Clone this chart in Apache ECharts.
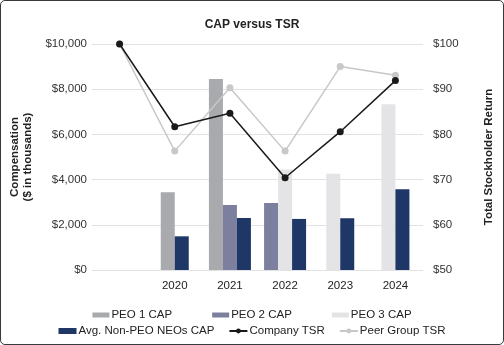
<!DOCTYPE html>
<html>
<head>
<meta charset="utf-8">
<script src="https://cdn.jsdelivr.net/npm/echarts@6/dist/echarts.min.js"></script>
<style>
html,body{margin:0;padding:0;background:#fff;}
#wrap{position:relative;width:504px;height:345px;}
#chart{position:absolute;left:0;top:0;width:504px;height:345px;}
#frame{position:absolute;left:0;top:0;width:504px;height:345px;box-sizing:border-box;border:1.5px solid #3a3a3a;border-radius:5px;pointer-events:none;}
</style>
</head>
<body>
<div id="wrap"><div id="chart"></div><div id="frame"></div></div>
<script>
var categories = ['', '2020', '2021', '2022', '2023', '2024'];
var peo1Cap   = [null, 3440, 8450, null, null, null];
var peo2Cap   = [null, null, 2880, 2960, null, null];
var peo3Cap   = [null, null, null, 4450, 4260, 7330];
var nonPeoCap = [null, 1490, 2300, 2260, 2290, 3570];
var companyTsr = [100, 81.7, 84.7, 70.4, 80.6, 91.9];
var peerTsr    = [100, 76.3, 90.3, 76.3, 95.0, 93.1];
var leftTicks = [0, 2000, 4000, 6000, 8000, 10000];
var rightTicks = [50, 60, 70, 80, 90, 100];

var barDefs = [
  {name: 'PEO 1 CAP', values: peo1Cap, color: '#a9aaad'},
  {name: 'PEO 2 CAP', values: peo2Cap, color: '#7c7f9e'},
  {name: 'PEO 3 CAP', values: peo3Cap, color: '#e4e4e6'},
  {name: 'Avg. Non-PEO NEOs CAP', values: nonPeoCap, color: '#1e3766'}
];

var FONT = 'Liberation Sans, Arial, Helvetica, sans-serif';
var BAR_W = 14;

function makeRender(idx) {
  return function (params, api) {
    var ci = api.value(0);
    var val = api.value(1);
    var present = [];
    for (var i = 0; i < barDefs.length; i++) {
      if (barDefs[i].values[ci] != null) present.push(i);
    }
    var k = present.indexOf(idx);
    var n = present.length;
    var base = api.coord([ci, 0]);
    var top = api.coord([ci, val]);
    var x = base[0] + (k - n / 2) * BAR_W;
    return {
      type: 'rect',
      shape: {x: x, y: top[1], width: BAR_W, height: base[1] - top[1]},
      style: api.style()
    };
  };
}

var series = barDefs.map(function (b, idx) {
  var data = [];
  b.values.forEach(function (v, i) { if (v != null) data.push([i, v]); });
  return {
    name: b.name,
    type: 'custom',
    yAxisIndex: 0,
    renderItem: makeRender(idx),
    encode: {x: 0, y: 1},
    itemStyle: {color: b.color},
    data: data,
    z: 2
  };
});

series.push({
  name: 'Peer Group TSR', type: 'line', yAxisIndex: 1, data: peerTsr,
  symbol: 'circle', symbolSize: 7,
  lineStyle: {color: '#c8c8c8', width: 1.5},
  itemStyle: {color: '#c8c8c8'}, z: 3
});
series.push({
  name: 'Company TSR', type: 'line', yAxisIndex: 1, data: companyTsr,
  symbol: 'circle', symbolSize: 7,
  lineStyle: {color: '#1a1a1a', width: 1.5},
  itemStyle: {color: '#1a1a1a'}, z: 4
});

var chart = echarts.init(document.getElementById('chart'), null, {renderer: 'canvas'});
chart.setOption({
  animation: false,
  backgroundColor: '#fff',
  title: {
    text: 'CAP versus TSR', left: 'center', top: 14,
    textStyle: {fontFamily: FONT, fontSize: 12, fontWeight: 'bold', color: '#222'}
  },
  legend: [
    {
      data: [{name: 'PEO 1 CAP', icon: 'rect'}, {name: 'PEO 2 CAP', icon: 'rect'}, {name: 'PEO 3 CAP', icon: 'rect'}],
      left: 'center', top: 304, itemWidth: 17, itemHeight: 5, itemGap: 40,
      textStyle: {fontFamily: FONT, fontSize: 11.5, color: '#222', padding: [0, 0, 0, -3]}
    },
    {
      data: [{name: 'Avg. Non-PEO NEOs CAP', icon: 'rect'}, 'Company TSR', 'Peer Group TSR'],
      left: 'center', top: 320, itemWidth: 18, itemHeight: 6, itemGap: 14,
      textStyle: {fontFamily: FONT, fontSize: 11.5, color: '#222', padding: [0, 0, 0, -3]}
    }
  ],
  grid: {left: 90, right: 81, top: 44, bottom: 75},
  xAxis: {
    type: 'category', data: categories, boundaryGap: true,
    axisLine: {show: false}, axisTick: {show: false},
    axisLabel: {fontFamily: FONT, fontSize: 11.5, color: '#222', margin: 10}
  },
  yAxis: [
    {
      type: 'value', min: leftTicks[0], max: leftTicks[leftTicks.length - 1], interval: 2000,
      name: 'Compensation\n($ in thousands)', nameLocation: 'middle', nameRotate: 90, nameGap: 58,
      nameTextStyle: {fontFamily: FONT, fontSize: 11.5, fontWeight: 'bold', color: '#222', lineHeight: 13},
      axisLine: {show: false}, axisTick: {show: false},
      axisLabel: {fontFamily: FONT, fontSize: 11.5, color: '#333', margin: 5,
        formatter: function (v) { return '$' + v.toLocaleString('en-US'); }},
      splitLine: {lineStyle: {color: '#e2e2e2', width: 1}}
    },
    {
      type: 'value', min: rightTicks[0], max: rightTicks[rightTicks.length - 1], interval: 10,
      name: 'Total Stockholder Return', nameLocation: 'middle', nameRotate: 90, nameGap: 60,
      nameTextStyle: {fontFamily: FONT, fontSize: 11.5, fontWeight: 'bold', color: '#222'},
      axisLine: {show: false}, axisTick: {show: false},
      axisLabel: {fontFamily: FONT, fontSize: 11.5, color: '#333', margin: 10,
        formatter: function (v) { return '$' + v; }},
      splitLine: {show: false}
    }
  ],
  series: series
});
</script>
</body>
</html>
